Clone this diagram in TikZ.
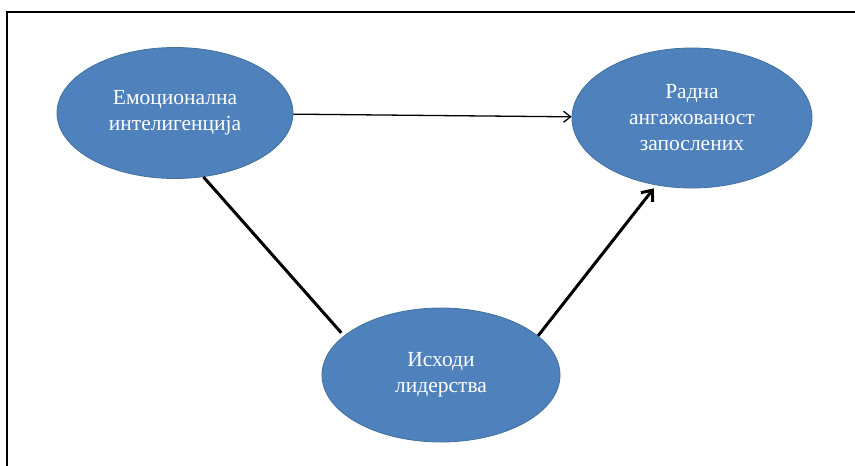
\documentclass[tikz,border=0pt]{standalone}
\usepackage{fontspec}
\setmainfont{Liberation Serif}
\usetikzlibrary{shapes.geometric,arrows.meta}
\definecolor{ovalblue}{HTML}{4F81BD}
\definecolor{ovaledge}{HTML}{41719C}
\tikzset{
  oval/.style={ellipse, fill=ovalblue, draw=ovaledge, line width=0.8pt,
    text=white, align=center, inner sep=0pt, font=\fontsize{21.5}{26}\selectfont},
  thinarrow/.style={line width=1.3pt, -{Straight Barb[length=7pt,width=11pt,line width=1.3pt]}},
  thickline/.style={line width=3pt},
  thickarrow/.style={line width=3pt, -{Straight Barb[length=9pt,width=15pt,line width=3pt]}}
}
\begin{document}
\begin{tikzpicture}[x=1pt,y=-1pt]
    \useasboundingbox (0,0) rectangle (855,466);
    % frame
    \draw[line width=2pt] (7,466) -- (7,12) -- (855,12);

    % ovals
    \node[oval, minimum width=236pt, minimum height=131pt] (emo) at (175,113)
      {Емоционална\\интелигенција};
    \node[oval, minimum width=240pt, minimum height=140pt] (rad) at (692,118)
      {Радна\\ангажованост\\запослених};
    \node[oval, minimum width=238pt, minimum height=134pt] (lid) at (441,375)
      {Исходи\\лидерства};

    % connectors
    \draw[thinarrow] (emo) -- (rad);
    \draw[thickline, shorten >=4pt] (emo.-66) -- (lid.158);
    \draw[thickarrow, shorten >=4pt] (lid.22) -- (rad.-118);
\end{tikzpicture}
\end{document}
